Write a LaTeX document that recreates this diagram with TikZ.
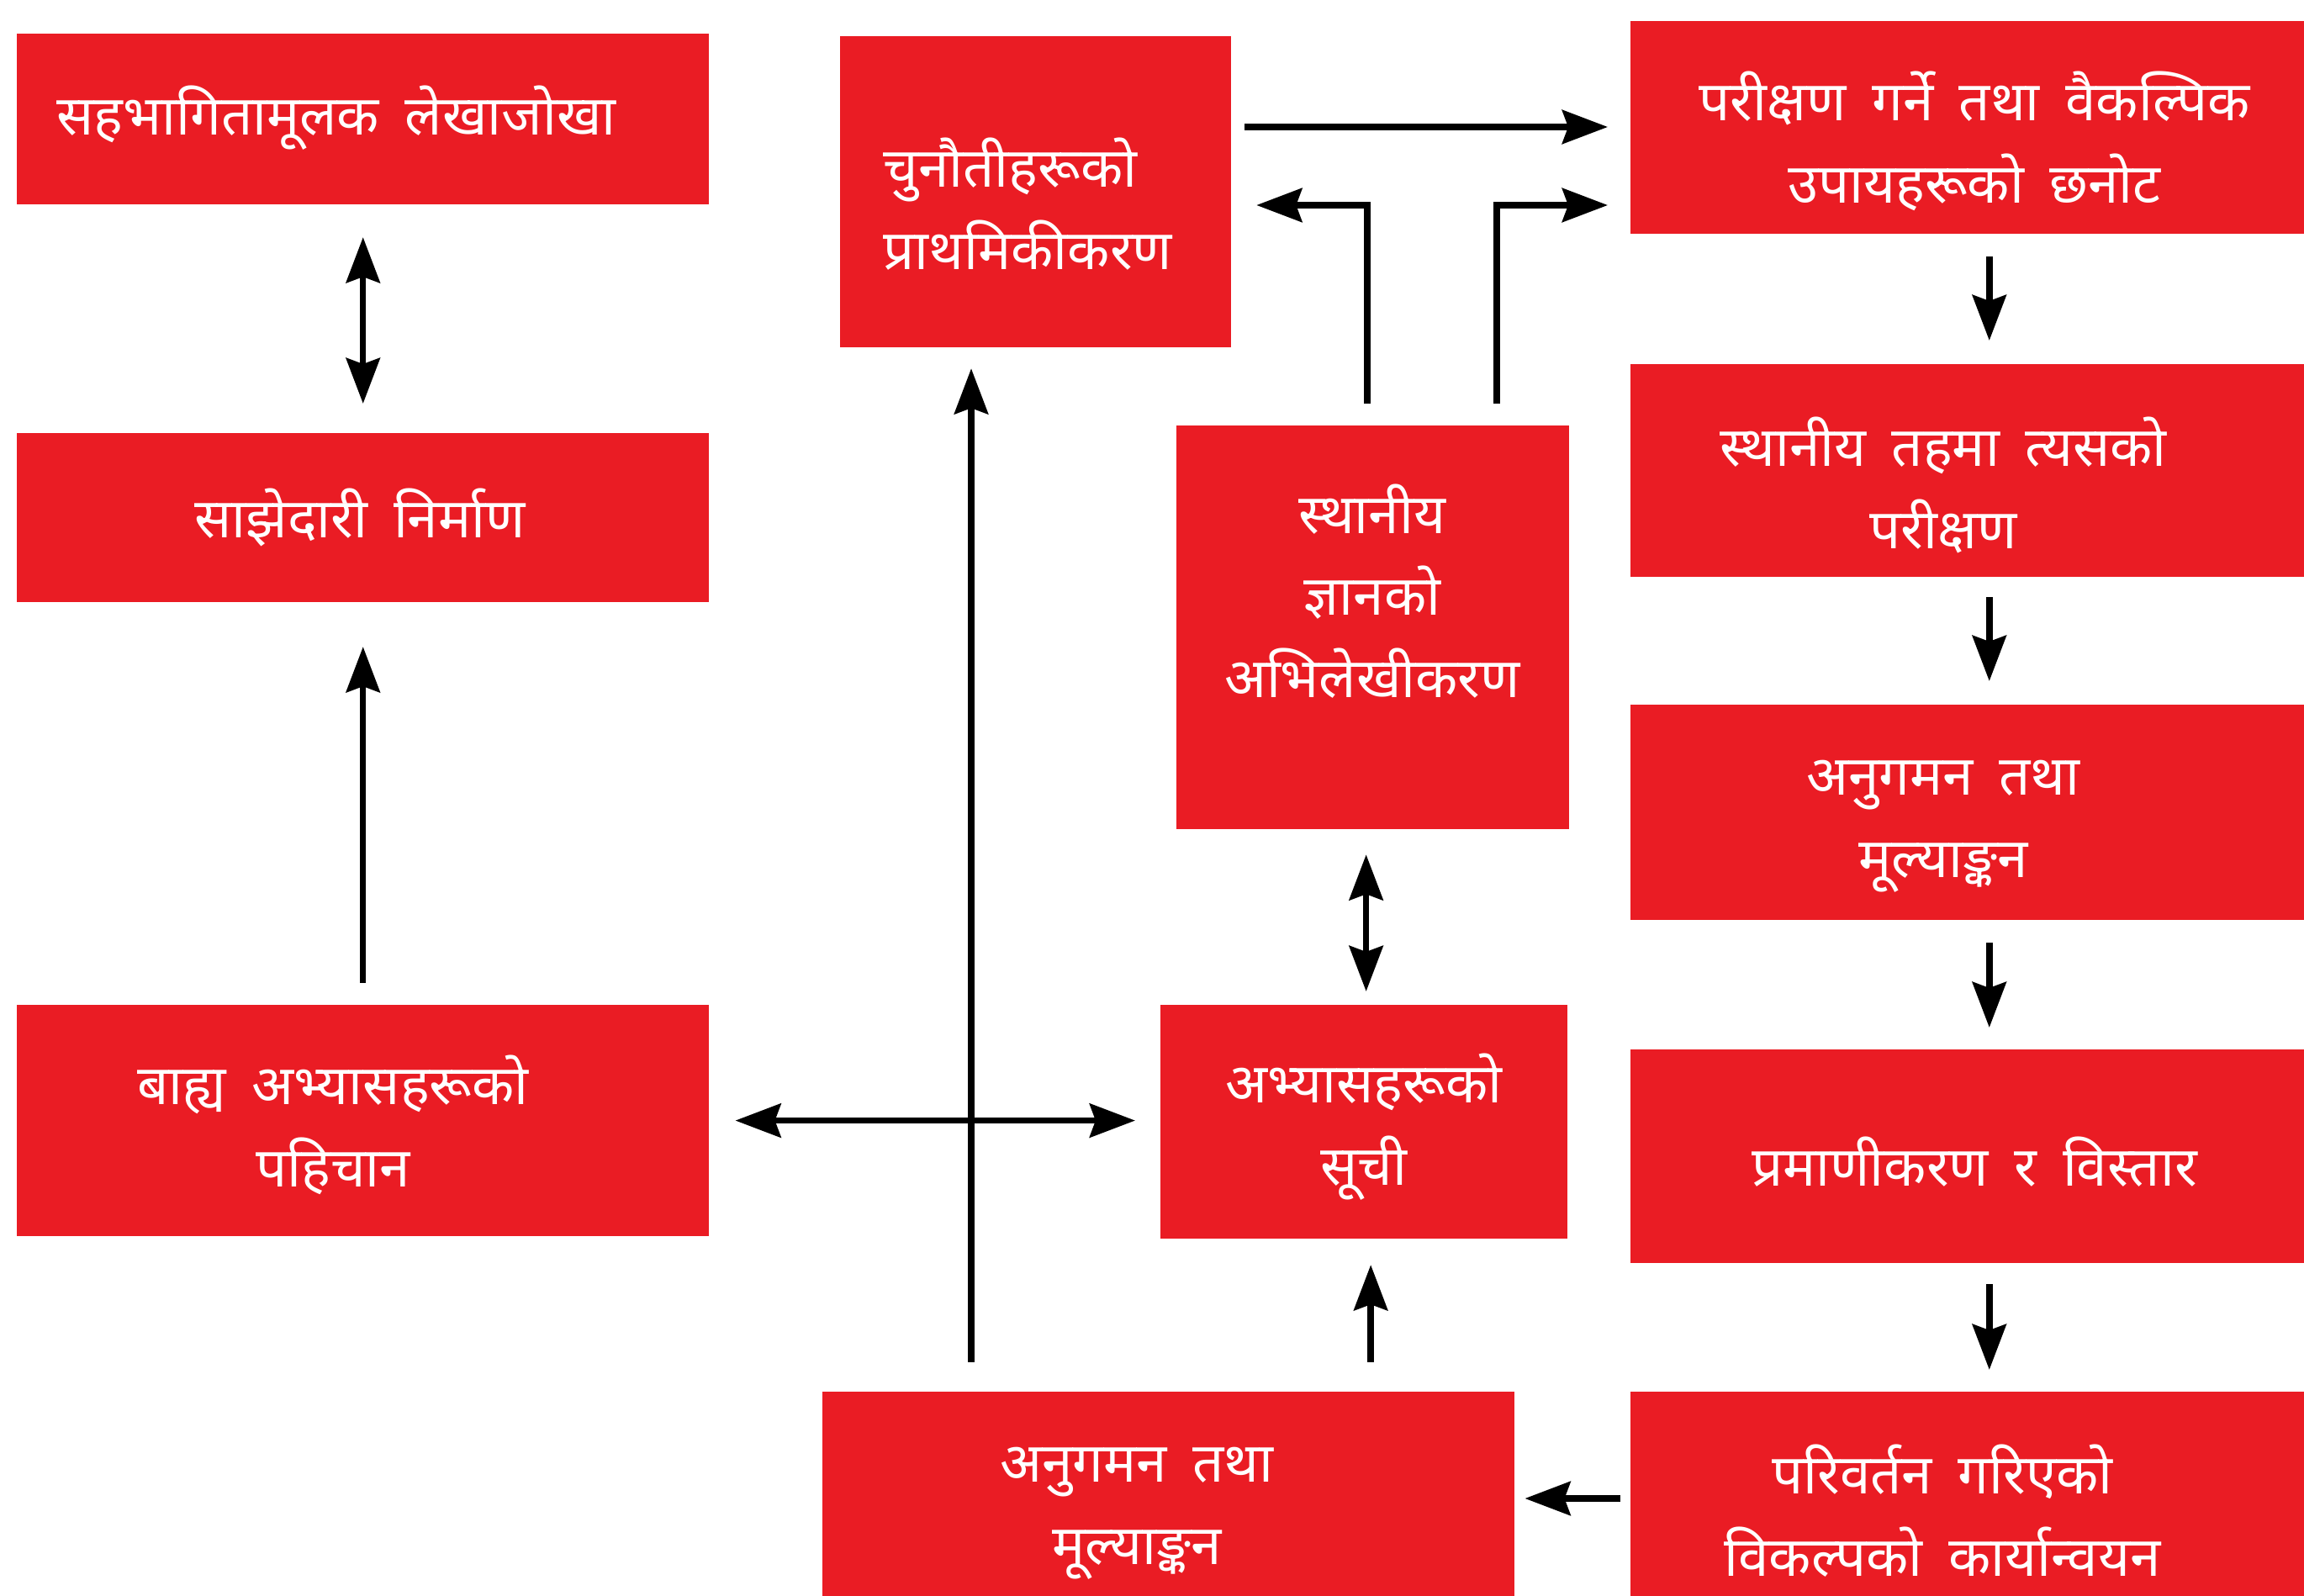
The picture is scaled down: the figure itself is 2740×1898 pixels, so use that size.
\documentclass[tikz,border=0pt]{standalone}
\usepackage{fontspec}
\newfontfamily\dev[Script=Devanagari,WordSpace=1.8]{Noto Sans}
\usetikzlibrary{arrows.meta,calc}
\definecolor{boxred}{RGB}{234,28,36}
\begin{document}
\begin{tikzpicture}[x=0.01cm, y=-0.01cm,
  box/.style={fill=boxred, draw=none, inner sep=0pt, outer sep=0pt, anchor=north west},
  txt/.style={text=white, font=\dev\fontsize{18.6}{27.8}\selectfont, align=center, inner sep=0pt},
  tip/.tip={Stealth[length=0.54cm,width=0.40cm,inset=0.07cm]},
  arr/.style={line width=0.075cm, -tip},
  dbl/.style={line width=0.075cm, tip-tip},
]
\useasboundingbox[fill=white] (0,0) rectangle (2740,1898);

% boxes
\node[box, minimum width=8.23cm, minimum height=2.03cm] (b1) at (20,40) {};
\node[box, minimum width=8.23cm, minimum height=2.01cm] (b2) at (20,515) {};
\node[box, minimum width=8.23cm, minimum height=2.75cm] (b3) at (20,1195) {};
\node[box, minimum width=4.65cm, minimum height=3.70cm] (b4) at (999,43) {};
\node[box, minimum width=4.67cm, minimum height=4.80cm] (b5) at (1399,506) {};
\node[box, minimum width=4.84cm, minimum height=2.78cm] (b6) at (1380,1195) {};
\node[box, minimum width=8.22cm, minimum height=2.43cm] (b7) at (978,1655) {};
\node[box, minimum width=8.01cm, minimum height=2.53cm] (b8) at (1939,25) {};
\node[box, minimum width=8.01cm, minimum height=2.53cm] (b9) at (1939,433) {};
\node[box, minimum width=8.01cm, minimum height=2.56cm] (b10) at (1939,838) {};
\node[box, minimum width=8.01cm, minimum height=2.54cm] (b11) at (1939,1248) {};
\node[box, minimum width=8.01cm, minimum height=2.43cm] (b12) at (1939,1655) {};

% texts
\node[txt] (t1) at (400,140) {सहभागितामूलक लेखाजोखा};
\node[txt] (t2) at (428,615) {साझेदारी निर्माण};
\node[txt] (t3) at (396,1338) {बाह्य अभ्यासहरूको\\पहिचान};
\node[txt, align=left, anchor=west] (t4) at (1050,243) {चुनौतीहरूको\\प्राथमिकीकरण};
\node[txt] (t5) at (1632,703) {स्थानीय\\ज्ञानको\\अभिलेखीकरण};
\node[txt] (t6) at (1622,1340) {अभ्यासहरूको\\सूची};
\node[txt] (t7) at (1352,1800) {अनुगमन तथा\\मूल्याङ्कन};
\node[txt] (t8) at (2348,168) {परीक्षण गर्ने तथा वैकल्पिक\\उपायहरूको छनोट};
\node[txt] (t9) at (2311,577) {स्थानीय तहमा त्यसको\\परीक्षण};
\node[txt] (t10) at (2311,983) {अनुगमन तथा\\मूल्याङ्कन};
\node[txt] (t11) at (2348,1382) {प्रमाणीकरण र विस्तार};
\node[txt] (t12) at (2310,1797) {परिवर्तन गरिएको\\विकल्पको कार्यान्वयन};

% helper coordinates
\coordinate (vx) at ($(b7.north west)+(177,0)$);
\coordinate (h1) at ($(b4.north east)+(0,108)$);
\coordinate (e1) at ($(b5.north west)+(227,0)$);
\coordinate (e2) at ($(b5.north west)+(381,0)$);
\coordinate (ey) at ($(b4.north east)+(0,201)$);
\coordinate (m5) at ($(b5.south)+(-8,0)$);
\coordinate (m6) at ($(b6.south)+(8,0)$);
\coordinate (r8) at ($(b8.south)+(26,0)$);
\coordinate (r9) at ($(b9.south)+(26,0)$);
\coordinate (r10) at ($(b10.south)+(26,0)$);
\coordinate (r11) at ($(b11.south)+(26,0)$);
\coordinate (l1) at ($(b12.north west)+(0,127)$);

% connectors
\draw[dbl, shorten <=0.39cm, shorten >=0.35cm] (b1.south) -- (b2.north);
\draw[arr, shorten <=0.26cm, shorten >=0.53cm] (b3.north) -- (b2.south);
\draw[dbl, shorten <=0.31cm, shorten >=0.30cm] (b3.east) -- (b3.east -| b6.west);
\draw[arr, shorten <=0.35cm, shorten >=0.25cm] (vx) -- (vx |- b4.south);
\draw[arr, shorten <=0.16cm, shorten >=0.27cm] (h1) -- (h1 -| b8.west);
\draw[arr, shorten <=0.26cm, shorten >=0.30cm] (e1) |- (ey);
\draw[arr, shorten <=0.26cm, shorten >=0.27cm] (e2) |- (ey -| b8.west);
\draw[dbl, shorten <=0.30cm, shorten >=0.16cm] (m5) -- (m5 |- b6.north);
\draw[arr, shorten <=0.35cm, shorten >=0.31cm] (m6 |- b7.north) -- (m6);
\draw[arr, shorten <=0.27cm, shorten >=0.28cm] (r8) -- (r8 |- b9.north);
\draw[arr, shorten <=0.24cm, shorten >=0.28cm] (r9) -- (r9 |- b10.north);
\draw[arr, shorten <=0.27cm, shorten >=0.26cm] (r10) -- (r10 |- b11.north);
\draw[arr, shorten <=0.25cm, shorten >=0.26cm] (r11) -- (r11 |- b12.north);
\draw[arr, shorten <=0.12cm, shorten >=0.13cm] (l1) -- (l1 -| b7.east);
\end{tikzpicture}
\end{document}
